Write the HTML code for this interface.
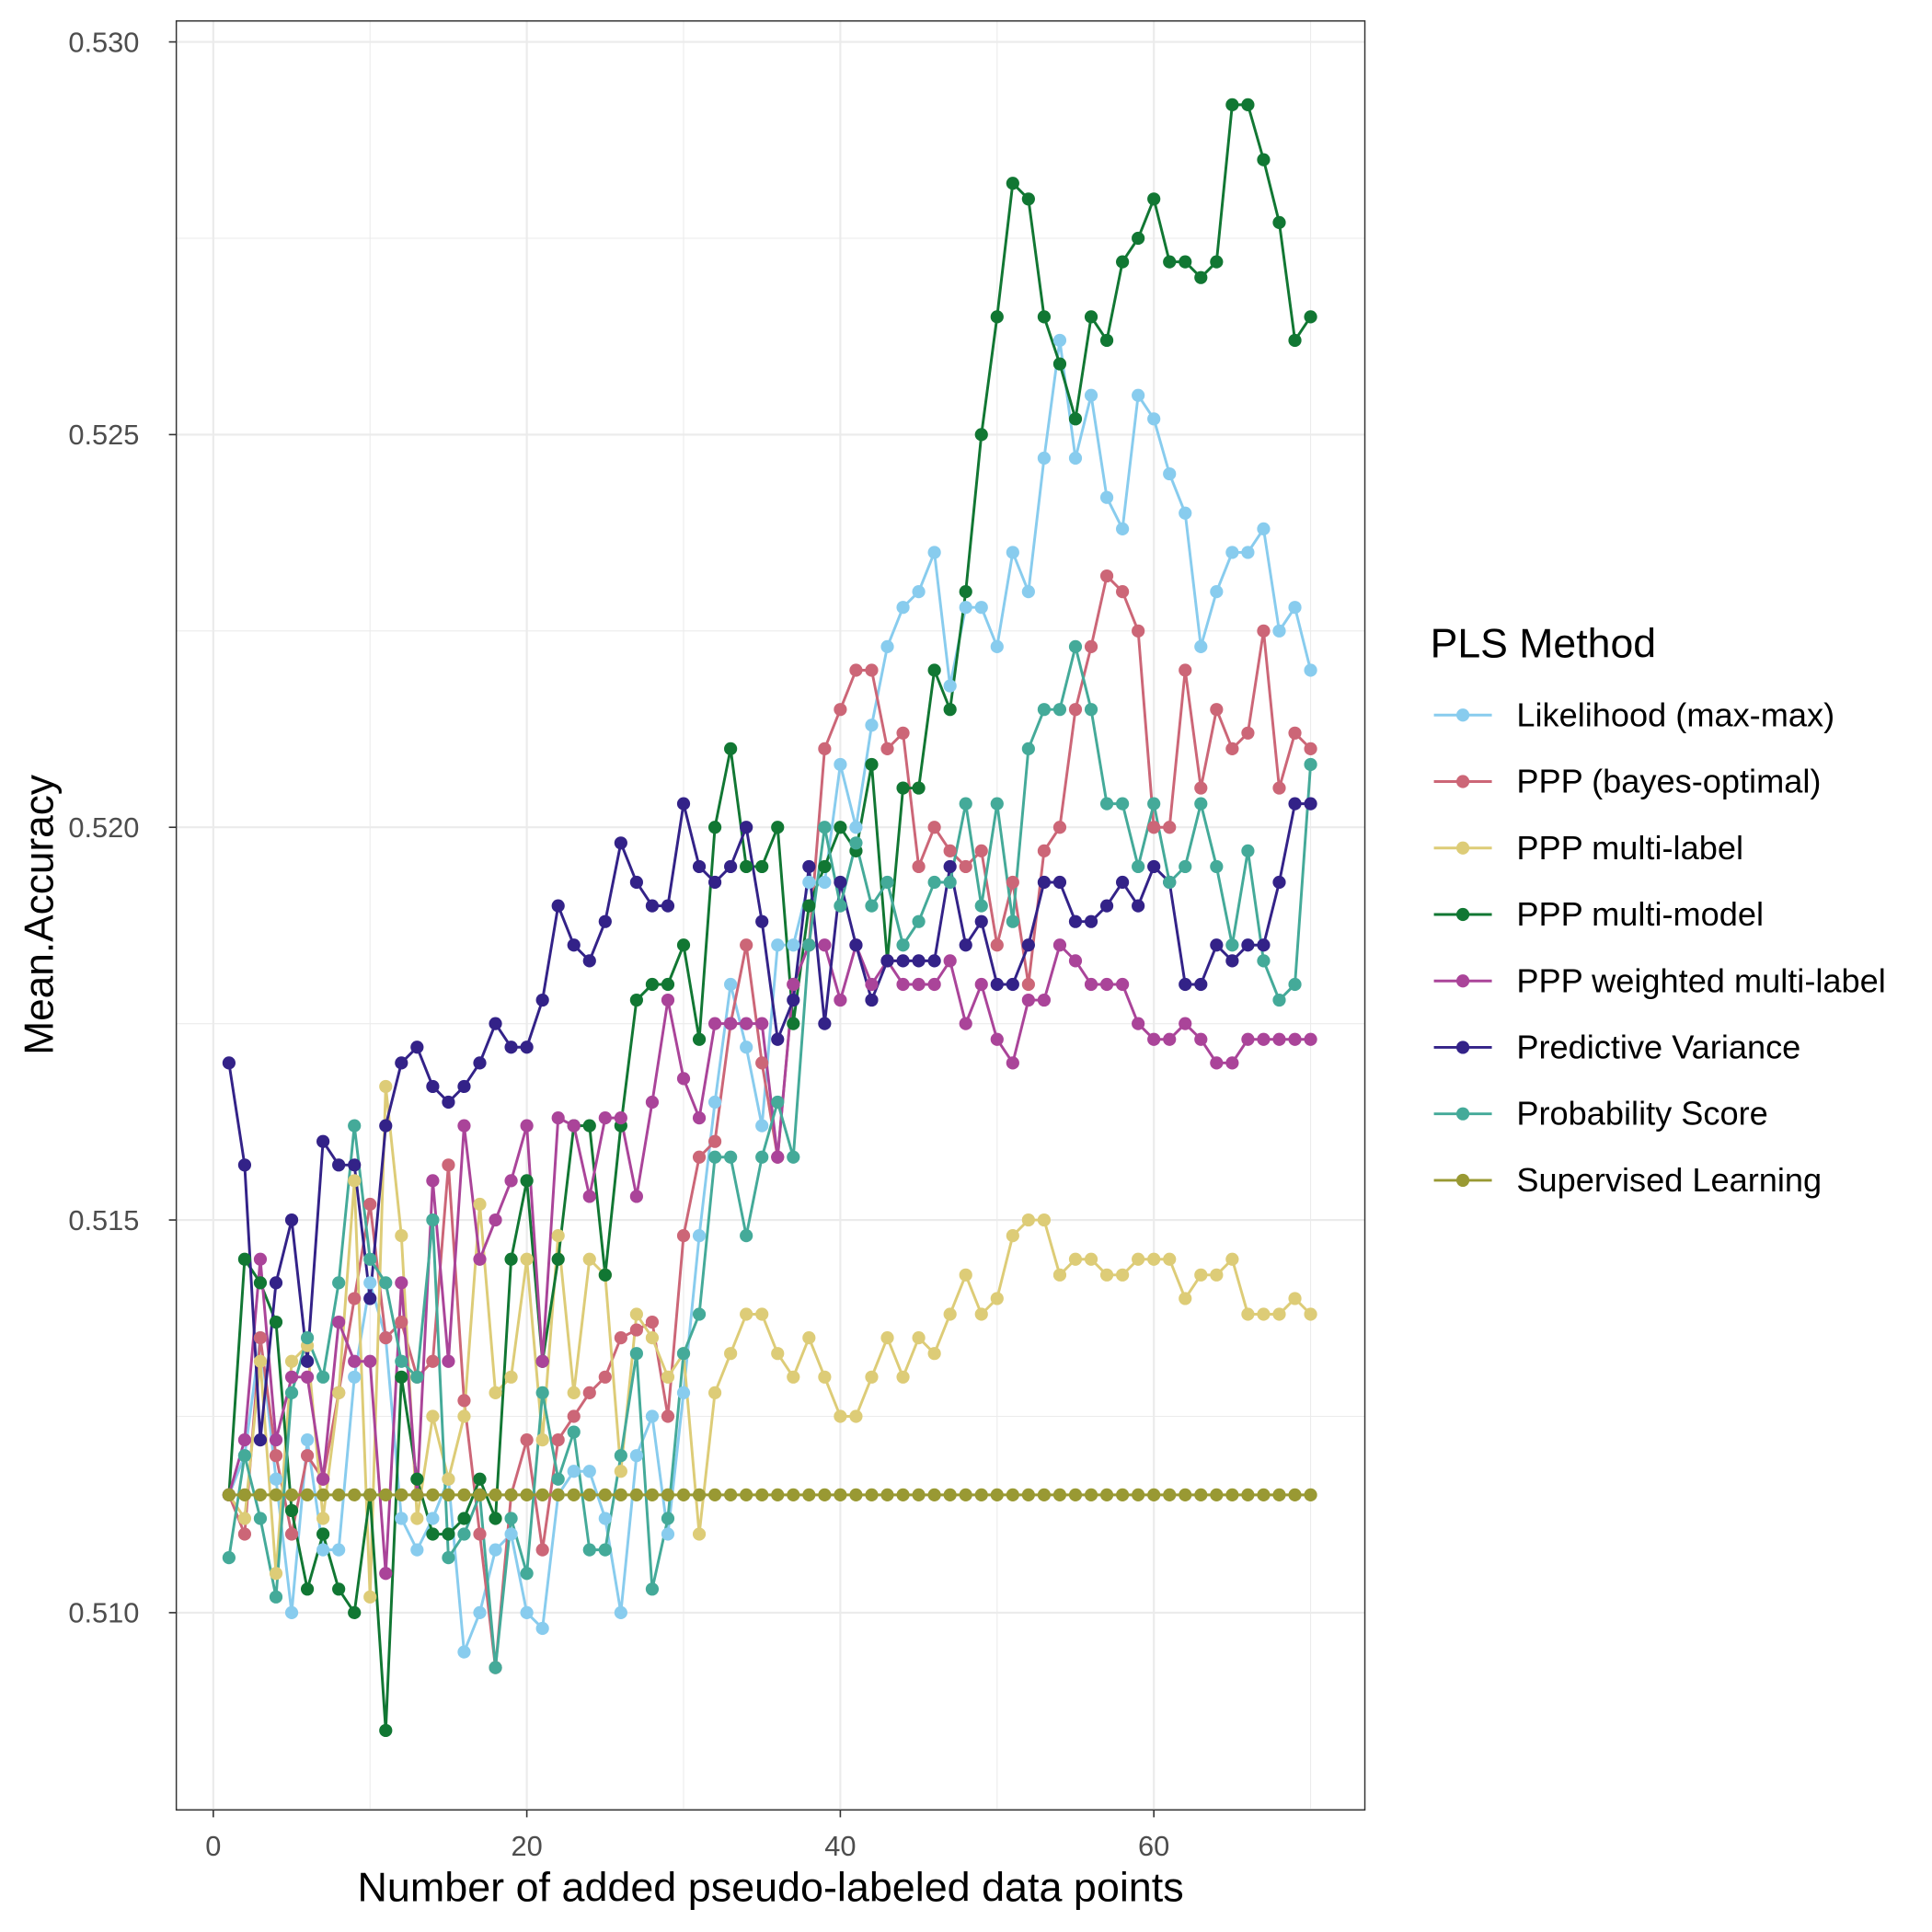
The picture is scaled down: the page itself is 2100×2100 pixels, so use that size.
<!DOCTYPE html>
<html><head><meta charset="utf-8"><style>
html,body{margin:0;padding:0;background:#fff}
svg{display:block}
text{font-family:"Liberation Sans",sans-serif}
</style></head><body>
<svg id="chart" xmlns="http://www.w3.org/2000/svg" width="2100" height="2100" viewBox="0 0 1567 1567">
<rect x="0" y="0" width="1567" height="1567" fill="#fff"/>
<g id="grid"></g>
<g id="lines"></g>
<g id="points"></g>
<rect x="143" y="17" width="964" height="1451" fill="none" stroke="#333" stroke-width="1.1"/>
<g id="axes"></g>
<text x="625" y="1542" font-size="33.5" text-anchor="middle" fill="#000">Number of added pseudo-labeled data points</text>
<text transform="translate(43,742) rotate(-90)" font-size="33" text-anchor="middle" fill="#000">Mean.Accuracy</text>
<g id="legend">
<text x="1160" y="533" font-size="33.3" fill="#000">PLS Method</text>
</g>
</svg>
<script>
const seriesNames = ["Likelihood (max-max)","PPP (bayes-optimal)","PPP multi-label","PPP multi-model","PPP weighted multi-label","Predictive Variance","Probability Score","Supervised Learning"];
const seriesColors = ["#88CCEE","#CC6677","#DDCC77","#117733","#AA4499","#332288","#44AA99","#999933"];
const xValues = Array.from({length:70},(_,i)=>i+1);
const xTicks = [0,20,40,60];
const yTicks = [0.510,0.515,0.520,0.525,0.530];
const yTickLabels = ["0.510","0.515","0.520","0.525","0.530"];

const likelihood = [0.5115,0.5120,0.5135,0.5117,0.5100,0.5122,0.5108,0.5108,0.5130,0.5142,0.5135,0.5112,0.5108,0.5112,0.5117,0.5095,0.5100,0.5108,0.5110,0.5100,0.5098,0.5115,0.5118,0.5118,0.5112,0.5100,0.5120,0.5125,0.5110,0.5128,0.5148,0.5165,0.5180,0.5172,0.5162,0.5185,0.5185,0.5193,0.5193,0.5208,0.5200,0.5213,0.5223,0.5228,0.5230,0.5235,0.5218,0.5228,0.5228,0.5223,0.5235,0.5230,0.5247,0.5262,0.5247,0.5255,0.5242,0.5238,0.5255,0.5252,0.5245,0.5240,0.5223,0.5230,0.5235,0.5235,0.5238,0.5225,0.5228,0.5220];
const bayesOptimal = [0.5115,0.5110,0.5135,0.5120,0.5110,0.5120,0.5117,0.5128,0.5140,0.5152,0.5135,0.5137,0.5130,0.5132,0.5157,0.5127,0.5110,0.5093,0.5115,0.5122,0.5108,0.5122,0.5125,0.5128,0.5130,0.5135,0.5136,0.5137,0.5125,0.5148,0.5158,0.5160,0.5175,0.5185,0.5170,0.5158,0.5180,0.5185,0.5210,0.5215,0.5220,0.5220,0.5210,0.5212,0.5195,0.5200,0.5197,0.5195,0.5197,0.5185,0.5193,0.5180,0.5197,0.5200,0.5215,0.5223,0.5232,0.5230,0.5225,0.5200,0.5200,0.5220,0.5205,0.5215,0.5210,0.5212,0.5225,0.5205,0.5212,0.5210];
const multiLabel = [0.5115,0.5112,0.5132,0.5105,0.5132,0.5134,0.5112,0.5128,0.5155,0.5102,0.5167,0.5148,0.5112,0.5125,0.5117,0.5125,0.5152,0.5128,0.5130,0.5145,0.5122,0.5148,0.5128,0.5145,0.5143,0.5118,0.5138,0.5135,0.5130,0.5133,0.5110,0.5128,0.5133,0.5138,0.5138,0.5133,0.5130,0.5135,0.5130,0.5125,0.5125,0.5130,0.5135,0.5130,0.5135,0.5133,0.5138,0.5143,0.5138,0.5140,0.5148,0.5150,0.5150,0.5143,0.5145,0.5145,0.5143,0.5143,0.5145,0.5145,0.5145,0.5140,0.5143,0.5143,0.5145,0.5138,0.5138,0.5138,0.5140,0.5138];
const multiModel = [0.5115,0.5145,0.5142,0.5137,0.5113,0.5103,0.5110,0.5103,0.5100,0.5115,0.5085,0.5130,0.5117,0.5110,0.5110,0.5112,0.5117,0.5112,0.5145,0.5155,0.5132,0.5145,0.5162,0.5162,0.5143,0.5162,0.5178,0.5180,0.5180,0.5185,0.5173,0.5200,0.5210,0.5195,0.5195,0.5200,0.5175,0.5190,0.5195,0.5200,0.5197,0.5208,0.5183,0.5205,0.5205,0.5220,0.5215,0.5230,0.5250,0.5265,0.5282,0.5280,0.5265,0.5259,0.5252,0.5265,0.5262,0.5272,0.5275,0.5280,0.5272,0.5272,0.5270,0.5272,0.5292,0.5292,0.5285,0.5277,0.5262,0.5265];
const weightedMultiLabel = [0.5115,0.5122,0.5145,0.5122,0.5130,0.5130,0.5117,0.5137,0.5132,0.5132,0.5105,0.5142,0.5115,0.5155,0.5132,0.5162,0.5145,0.5150,0.5155,0.5162,0.5132,0.5163,0.5162,0.5153,0.5163,0.5163,0.5153,0.5165,0.5178,0.5168,0.5163,0.5175,0.5175,0.5175,0.5175,0.5158,0.5180,0.5185,0.5185,0.5178,0.5185,0.5180,0.5183,0.5180,0.5180,0.5180,0.5183,0.5175,0.5180,0.5173,0.5170,0.5178,0.5178,0.5185,0.5183,0.5180,0.5180,0.5180,0.5175,0.5173,0.5173,0.5175,0.5173,0.5170,0.5170,0.5173,0.5173,0.5173,0.5173,0.5173];
const predictiveVariance = [0.5170,0.5157,0.5122,0.5142,0.5150,0.5132,0.5160,0.5157,0.5157,0.5140,0.5162,0.5170,0.5172,0.5167,0.5165,0.5167,0.5170,0.5175,0.5172,0.5172,0.5178,0.5190,0.5185,0.5183,0.5188,0.5198,0.5193,0.5190,0.5190,0.5203,0.5195,0.5193,0.5195,0.5200,0.5188,0.5173,0.5178,0.5195,0.5175,0.5193,0.5185,0.5178,0.5183,0.5183,0.5183,0.5183,0.5195,0.5185,0.5188,0.5180,0.5180,0.5185,0.5193,0.5193,0.5188,0.5188,0.5190,0.5193,0.5190,0.5195,0.5193,0.5180,0.5180,0.5185,0.5183,0.5185,0.5185,0.5193,0.5203,0.5203];
const probabilityScore = [0.5107,0.5120,0.5112,0.5102,0.5128,0.5135,0.5130,0.5142,0.5162,0.5145,0.5142,0.5132,0.5130,0.5150,0.5107,0.5110,0.5115,0.5093,0.5112,0.5105,0.5128,0.5117,0.5123,0.5108,0.5108,0.5120,0.5133,0.5103,0.5112,0.5133,0.5138,0.5158,0.5158,0.5148,0.5158,0.5165,0.5158,0.5185,0.5200,0.5190,0.5198,0.5190,0.5193,0.5185,0.5188,0.5193,0.5193,0.5203,0.5190,0.5203,0.5188,0.5210,0.5215,0.5215,0.5223,0.5215,0.5203,0.5203,0.5195,0.5203,0.5193,0.5195,0.5203,0.5195,0.5185,0.5197,0.5183,0.5178,0.5180,0.5208];
const supervised = Array(70).fill(0.5115);

const allSeries = [likelihood,bayesOptimal,multiLabel,multiModel,weightedMultiLabel,predictiveVariance,probabilityScore,supervised];
const seriesKeys = ["likelihood","bayes-optimal","multi-label","multi-model","weighted-multi-label","predictive-variance","probability-score","supervised-learning"];

const NS="http://www.w3.org/2000/svg";
const PX0=143,PX1=1107,PY0=17,PY1=1468;
function xScale(v){return 173+(v-0)*(1063-173)/70;}
function yScale(v){return 1308-(v-0.510)*63700;}
function mk(tag,attrs,parent){const e=document.createElementNS(NS,tag);for(const k in attrs)e.setAttribute(k,attrs[k]);parent.appendChild(e);return e;}

const grid=document.getElementById('grid');
[10,30,50,70].forEach(v=>{const l=mk('line',{x1:xScale(v),x2:xScale(v),y1:PY0,y2:PY1,stroke:'#ebebeb','stroke-width':0.8},grid);

});
[0.5075,0.5125,0.5175,0.5225,0.5275].forEach(v=>{const l=mk('line',{x1:PX0,x2:PX1,y1:yScale(v),y2:yScale(v),stroke:'#ebebeb','stroke-width':0.8},grid);

});
xTicks.forEach(v=>{const l=mk('line',{x1:xScale(v),x2:xScale(v),y1:PY0,y2:PY1,stroke:'#ebebeb','stroke-width':1.6},grid);

});
yTicks.forEach(v=>{const l=mk('line',{x1:PX0,x2:PX1,y1:yScale(v),y2:yScale(v),stroke:'#ebebeb','stroke-width':1.6},grid);

});

const axes=document.getElementById('axes');
xTicks.forEach(v=>{
 const t=mk('line',{x1:xScale(v),x2:xScale(v),y1:PY1,y2:PY1+6,stroke:'#333','stroke-width':1.2},axes);
 
 
 const tx=mk('text',{x:xScale(v),y:PY1+37,'font-size':23,'text-anchor':'middle',fill:'#4d4d4d'},axes);
 tx.textContent=String(v);
 
 
});
yTicks.forEach((v,i)=>{
 const t=mk('line',{x1:PX0-6,x2:PX0,y1:yScale(v),y2:yScale(v),stroke:'#333','stroke-width':1.2},axes);
 
 
 const tx=mk('text',{x:PX0-30,y:yScale(v)+8,'font-size':23,'text-anchor':'end',fill:'#4d4d4d'},axes);
 tx.textContent=yTickLabels[i];
 
 
});

const lines=document.getElementById('lines'),pts=document.getElementById('points');
allSeries.forEach((s,si)=>{
 const d=s.map((v,i)=>(i?'L':'M')+xScale(xValues[i]).toFixed(2)+','+yScale(v).toFixed(2)).join(' ');
 const p=mk('path',{d:d,fill:'none',stroke:seriesColors[si],'stroke-width':2.2,'stroke-linejoin':'round'},lines);
 
 
});
allSeries.forEach((s,si)=>{
 const g=mk('g',{},pts);
 
 
 s.forEach((v,i)=>{
  const c=mk('circle',{cx:xScale(xValues[i]),cy:yScale(v),r:5.3,fill:seriesColors[si]},g);
  
  
 });
});

const leg=document.getElementById('legend');
seriesNames.forEach((n,i)=>{
 const y=580+i*53.9;
 const g=mk('g',{},leg);
 
 
 mk('line',{x1:1163,x2:1210,y1:y,y2:y,stroke:seriesColors[i],'stroke-width':2.2},g);
 mk('circle',{cx:1186.5,cy:y,r:5.3,fill:seriesColors[i]},g);
 const t=mk('text',{x:1230,y:y+9,'font-size':27,fill:'#000'},g);
 t.textContent=n;
});
</script>
</body></html>
